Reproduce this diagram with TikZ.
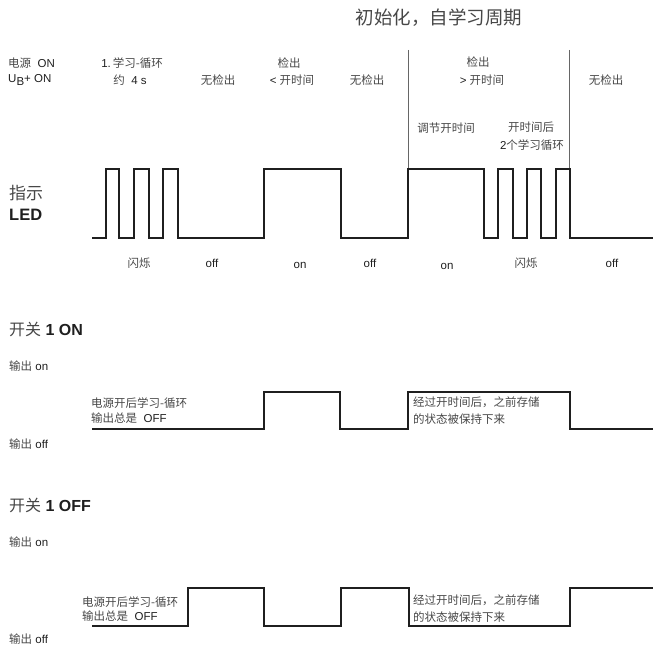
\documentclass[tikz,border=0pt]{standalone}
\usepackage{fontspec}
\setmainfont{Liberation Sans}
\newfontfamily\cjkfont{Noto Sans CJK SC}
\newcommand\zhs[1]{{\cjkfont\color{black!72}#1}}
\begin{document}
\begin{tikzpicture}[x=1pt,y=-1pt,
  lbl/.style={inner sep=0pt,font=\fontsize{11.5}{13}\selectfont,text=black!88},
  big/.style={inner sep=0pt,font=\fontsize{16}{18}\selectfont,text=black!88},
  wave/.style={line width=2.7pt,draw=black!88,line join=miter},
  marker/.style={line width=0.6pt,draw=black!60}]
\useasboundingbox (0,0) rectangle (653,650);

% title
\node[inner sep=0pt,font=\fontsize{18.5}{20}\selectfont] (title) at (439,18) {\zhs{初始化，自学习周期}};

% top labels
\node[lbl,anchor=west] (pwr1) at (8,63) {\zhs{电源}\; ON};
\node[lbl,anchor=west] (pwr2) at (8,80) {U\raisebox{-0.45ex}{B}+ ON};
\node[lbl] (l1a) at (132,63) {1.\,\zhs{学习-循环}};
\node[lbl] (l1b) at (130,80) {\zhs{约}~ 4 s};
\node[lbl] (n1) at (218,80) {\zhs{无检出}};
\node[lbl] (d1a) at (289,63) {\zhs{检出}};
\node[lbl] (d1b) at (292,80) {< \zhs{开时间}};
\node[lbl] (n2) at (367,80) {\zhs{无检出}};
\node[lbl] (d2a) at (478,62) {\zhs{检出}};
\node[lbl] (d2b) at (482,80) {> \zhs{开时间}};
\node[lbl] (n3) at (606,80) {\zhs{无检出}};
\node[lbl] (adj) at (446,128) {\zhs{调节开时间}};
\node[lbl] (aft1) at (531,127) {\zhs{开时间后}};
\node[lbl] (aft2) at (532,145) {2\zhs{个学习循环}};

% LED label
\node[inner sep=0pt,anchor=west,font=\fontsize{17}{19}\selectfont] (led1) at (9,193) {\zhs{指示}};
\node[big,anchor=west,font=\fontsize{16.5}{18}\selectfont\bfseries] (led2) at (9,215) {LED};

% markers
\draw[marker] (408,50) -- (408,169);
\draw[marker] (569,50) -- (569,169);

% LED waveform
\draw[wave] (92,238) -- (106,238) -- (106,169) -- (119,169) -- (119,238) -- (134,238) -- (134,169) -- (149,169) -- (149,238) -- (163,238) -- (163,169) -- (178,169) -- (178,238) -- (264,238) -- (264,169) -- (341,169) -- (341,238) -- (408,238) -- (408,169) -- (484,169) -- (484,238) -- (498,238) -- (498,169) -- (513,169) -- (513,238) -- (527,238) -- (527,169) -- (541,169) -- (541,238) -- (556,238) -- (556,169) -- (570,169) -- (570,238) -- (653,238);

% LED state labels
\node[lbl,anchor=base] (st1) at (139,267) {\zhs{闪烁}};
\node[lbl,anchor=base] (st2) at (212,267) {off};
\node[lbl,anchor=base] (st3) at (300,268) {on};
\node[lbl,anchor=base] (st4) at (370,267) {off};
\node[lbl,anchor=base] (st5) at (447,269) {on};
\node[lbl,anchor=base] (st6) at (526,267) {\zhs{闪烁}};
\node[lbl,anchor=base] (st7) at (612,267) {off};

% Switch 1 ON
\node[big,anchor=west] (s1) at (9,329) {\zhs{开关} \textbf{1 ON}};
\node[lbl,anchor=west] (o1) at (9,366) {\zhs{输出} on};
\node[lbl,anchor=west] (o2) at (9,444) {\zhs{输出} off};
\draw[wave] (92,429) -- (264,429) -- (264,392) -- (340,392) -- (340,429) -- (408,429) -- (408,392) -- (570,392) -- (570,429) -- (653,429);
\node[lbl,anchor=west] (ta1) at (91,403) {\zhs{电源开后学习-循环}};
\node[lbl,anchor=west] (ta2) at (91,418) {\zhs{输出总是}~ OFF};
\node[lbl,anchor=west] (tb1) at (413,402) {\zhs{经过开时间后，之前存储}};
\node[lbl,anchor=west] (tb2) at (413,419) {\zhs{的状态被保持下来}};

% Switch 1 OFF
\node[big,anchor=west] (s2) at (9,505) {\zhs{开关} \textbf{1 OFF}};
\node[lbl,anchor=west] (o3) at (9,542) {\zhs{输出} on};
\node[lbl,anchor=west] (o4) at (9,639) {\zhs{输出} off};
\draw[wave] (92,626) -- (188,626) -- (188,588) -- (264,588) -- (264,626) -- (341,626) -- (341,588) -- (409,588) -- (409,626) -- (570,626) -- (570,588) -- (653,588);
\node[lbl,anchor=west] (tc1) at (82,602) {\zhs{电源开后学习-循环}};
\node[lbl,anchor=west] (tc2) at (82,616) {\zhs{输出总是}~ OFF};
\node[lbl,anchor=west] (td1) at (413,600) {\zhs{经过开时间后，之前存储}};
\node[lbl,anchor=west] (td2) at (413,617) {\zhs{的状态被保持下来}};
\end{tikzpicture}
\end{document}
